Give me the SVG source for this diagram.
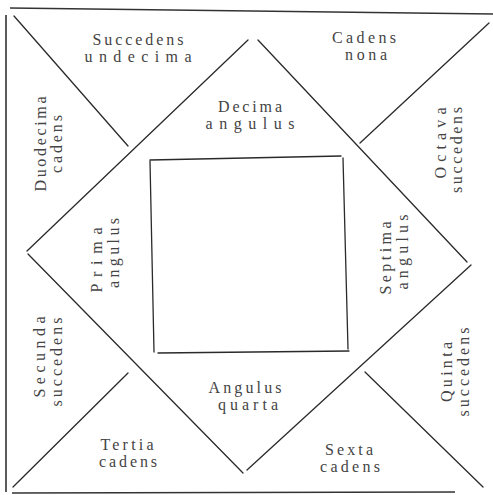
<svg xmlns="http://www.w3.org/2000/svg" width="493" height="495" viewBox="0 0 493 495">
<style>
.ln{stroke:#2a2a2a;stroke-width:1.3;fill:none;stroke-linecap:round}
.fr{stroke:#333;stroke-width:1.6;fill:none}
text{font-family:"Liberation Serif","DejaVu Serif",serif;font-size:16px;fill:#444;text-anchor:middle}
</style>
<rect width="493" height="495" fill="#fff"/>
<g id="connectors">
<line class="fr" x1="10" y1="8" x2="493" y2="14"/>
<line class="fr" x1="6" y1="15" x2="6" y2="492"/>
<line class="fr" x1="12" y1="493" x2="455" y2="492"/>
<line class="ln" x1="14" y1="16" x2="128" y2="146"/>
<line class="ln" x1="489" y1="23" x2="360" y2="143"/>
<line class="ln" x1="13" y1="487" x2="128" y2="373"/>
<line class="ln" x1="365" y1="372" x2="483" y2="487"/>
<line class="ln" x1="248" y1="40" x2="27" y2="251"/>
<line class="ln" x1="258" y1="40" x2="467" y2="262"/>
<line class="ln" x1="28" y1="254" x2="243" y2="473"/>
<line class="ln" x1="471" y1="265" x2="247" y2="470"/>
<line class="ln" x1="150" y1="160" x2="341" y2="156"/>
<line class="ln" x1="343" y1="158" x2="348" y2="349"/>
<line class="ln" x1="158" y1="353" x2="349" y2="351"/>
<line class="ln" x1="150" y1="161" x2="154" y2="352"/>
</g>
<g id="house11"><text x="138" y="45" textLength="91" lengthAdjust="spacing">Succedens</text><text x="138" y="62" textLength="107" lengthAdjust="spacing">undecima</text></g>
<g id="house9"><text x="364" y="43" textLength="64" lengthAdjust="spacing">Cadens</text><text x="366" y="60" textLength="42" lengthAdjust="spacing">nona</text></g>
<g id="house10"><text x="250" y="112" textLength="64" lengthAdjust="spacing">Decima</text><text x="250" y="129" textLength="89" lengthAdjust="spacing">angulus</text></g>
<g id="house12"><text transform="translate(46,144) rotate(-90)" textLength="95" lengthAdjust="spacing">Duodecima</text><text transform="translate(62,144) rotate(-90)" textLength="58" lengthAdjust="spacing">cadens</text></g>
<g id="house8"><text transform="translate(446,143) rotate(-90)" textLength="71" lengthAdjust="spacing">Octava</text><text transform="translate(462,150) rotate(-90)" textLength="86" lengthAdjust="spacing">succedens</text></g>
<g id="house1"><text transform="translate(102,260) rotate(-90)" textLength="65" lengthAdjust="spacing">Prima</text><text transform="translate(119,253) rotate(-90)" textLength="70" lengthAdjust="spacing">angulus</text></g>
<g id="house7"><text transform="translate(391,258) rotate(-90)" textLength="73" lengthAdjust="spacing">Septima</text><text transform="translate(408,252) rotate(-90)" textLength="75" lengthAdjust="spacing">angulus</text></g>
<g id="house2"><text transform="translate(45,357) rotate(-90)" textLength="81" lengthAdjust="spacing">Secunda</text><text transform="translate(62,362) rotate(-90)" textLength="89" lengthAdjust="spacing">succedens</text></g>
<g id="house3"><text x="127" y="450" textLength="53" lengthAdjust="spacing">Tertia</text><text x="128" y="467" textLength="58" lengthAdjust="spacing">cadens</text></g>
<g id="house4"><text x="245" y="393" textLength="73" lengthAdjust="spacing">Angulus</text><text x="248" y="410" textLength="60" lengthAdjust="spacing">quarta</text></g>
<g id="house6"><text x="349" y="455" textLength="48" lengthAdjust="spacing">Sexta</text><text x="350" y="472" textLength="60" lengthAdjust="spacing">cadens</text></g>
<g id="house5"><text transform="translate(452,372) rotate(-90)" textLength="60" lengthAdjust="spacing">Quinta</text><text transform="translate(469,372) rotate(-90)" textLength="89" lengthAdjust="spacing">succedens</text></g>
</svg>
